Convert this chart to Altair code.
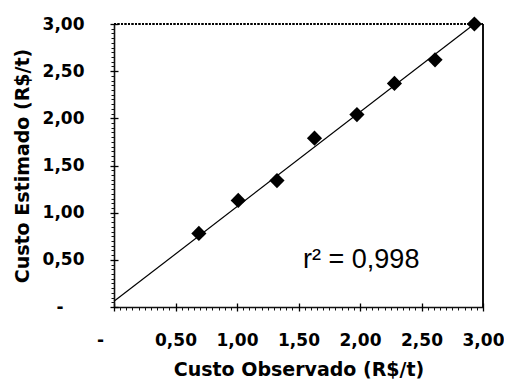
import altair as alt
import pandas as pd

# ---- data ----
obs = [0.69, 1.01, 1.325, 1.63, 1.975, 2.28, 2.61, 2.93]
est = [0.78, 1.13, 1.34, 1.79, 2.04, 2.37, 2.62, 3.00]
fit_x = [0.0, 2.93]
fit_y = [0.06, 3.00]
major_ticks = [0.0, 0.5, 1.0, 1.5, 2.0, 2.5, 3.0]
minor_ticks = [round(i * 0.05, 2) for i in range(61)]
x_title = "Custo Observado (R$/t)"
y_title = "Custo Estimado (R$/t)"
r2_label = "r² = 0,998"
r2_pos = {"x": [2.01], "y": [0.50], "label": [r2_label]}

df_pts = pd.DataFrame({"obs": obs, "est": est})
df_fit = pd.DataFrame({"fx": fit_x, "fy": fit_y})
df_r2 = pd.DataFrame(r2_pos)

xscale = alt.Scale(domain=[0, 3], nice=False, zero=True)
yscale = alt.Scale(domain=[0, 3], nice=False, zero=True)

common = dict(
    labelFont="DejaVu Sans", labelFontWeight="bold", labelFontSize=17,
    labelColor="black", titleFont="DejaVu Sans", titleFontWeight="bold",
    titleFontSize=19, titleColor="black", tickColor="black", grid=False,
)

lbl = "datum.value == 0 ? '-' : replace(format(datum.value, '.2f'), '.', ',')"

x_major = alt.Axis(
    orient="bottom", values=major_ticks, tickSize=8, tickWidth=1.3, offset=-4,
    domain=False, labelPadding=21, title=x_title, titlePadding=12,
    labelExpr=lbl,
    labelOffset={"condition": {"test": "datum.value == 0", "value": -14}, "value": 0},
    labelFlush=False, labelOverlap=False, **common)
y_major = alt.Axis(
    orient="left", values=major_ticks, tickSize=8, tickWidth=1.3, offset=-4,
    domain=False, title=y_title, titlePadding=10,
    labelPadding={"condition": {"test": "datum.value == 0", "value": 47}, "value": 26},
    labelExpr=lbl,
    labelFlush=False, labelOverlap=False, **common)
x_minor = alt.Axis(
    orient="bottom", values=minor_ticks, tickSize=3, tickWidth=1, labels=False,
    title=None, domain=True, domainColor="#111111", domainWidth=1.6,
    tickColor="#111111", grid=False)
y_minor = alt.Axis(
    orient="left", values=minor_ticks, tickSize=3, tickWidth=1, labels=False,
    title=None, domain=True, domainColor="#111111", domainWidth=1.6,
    tickColor="#111111", grid=False)

top_rule = alt.Chart(df_fit).mark_rule(color="black", strokeWidth=2, strokeDash=[2, 1.5]).encode(
    x=alt.X(datum=0.0, scale=xscale, axis=None),
    x2=alt.X2(datum=3.0),
    y=alt.Y(datum=3.0, scale=yscale, axis=None),
)
right_rule = alt.Chart(df_fit).mark_rule(color="black", strokeWidth=1.5).encode(
    x=alt.X(datum=3.0, scale=xscale, axis=None),
    y=alt.Y(datum=0.0, scale=yscale, axis=None),
    y2=alt.Y2(datum=3.0),
)
line = alt.Chart(df_fit).mark_line(color="black", strokeWidth=1.2).encode(
    x=alt.X("fx:Q", scale=xscale, axis=x_minor),
    y=alt.Y("fy:Q", scale=yscale, axis=y_minor),
)
pts = alt.Chart(df_pts).mark_point(shape="diamond", filled=True, color="black", size=230, opacity=1).encode(
    x=alt.X("obs:Q", scale=xscale, axis=x_major),
    y=alt.Y("est:Q", scale=yscale, axis=y_major),
)
txt = alt.Chart(df_r2).mark_text(font="Liberation Sans", fontSize=27, color="black",
                                 align="center", baseline="middle").encode(
    x=alt.X("x:Q", scale=xscale, axis=None),
    y=alt.Y("y:Q", scale=yscale, axis=None),
    text="label:N",
)

chart = alt.layer(top_rule, right_rule, line, pts, txt).resolve_axis(
    x="independent", y="independent"
).properties(
    width=369, height=283,
    padding={"left": 5, "top": 7, "right": 0, "bottom": 0},
    background="white",
).configure_view(stroke=None)

chart.save("out.html", embed_options={"renderer": "svg", "actions": False})
